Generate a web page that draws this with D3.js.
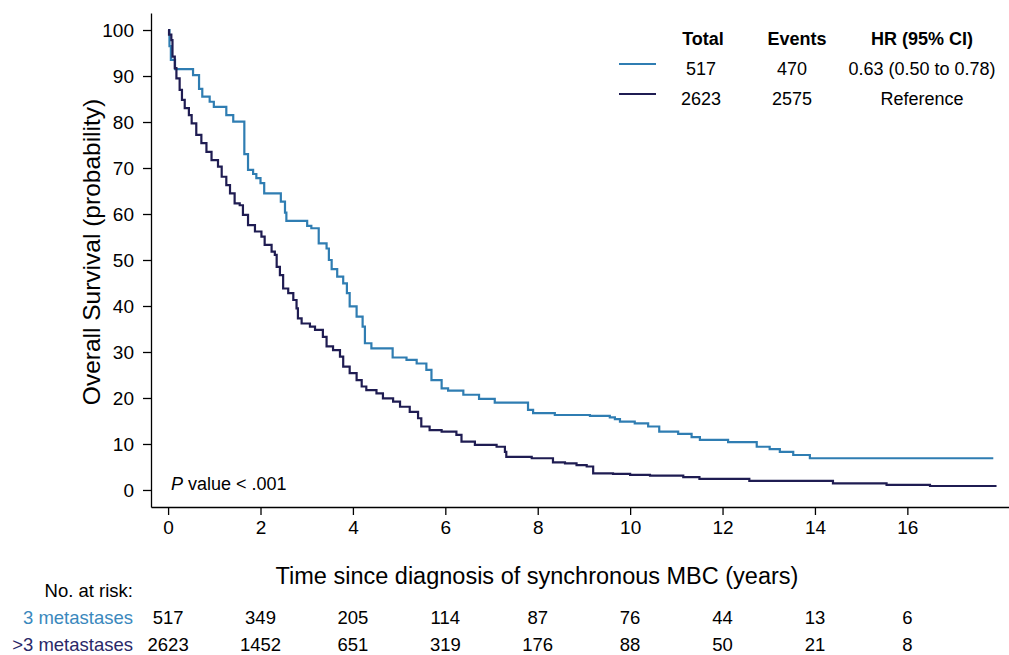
<!DOCTYPE html>
<html>
<head>
<meta charset="utf-8">
<script src="https://cdn.jsdelivr.net/npm/d3@7"></script>
<style>
  body { margin: 0; background: #fff; }
  svg { display: block; font-family: "Liberation Sans", Arial, sans-serif; }
</style>
</head>
<body>
<svg width="1009" height="655"></svg>
<script>
// Curve data (years, survival %)
var threeTime = [0, 0.03, 0.06, 0.15, 0.54, 0.67, 0.74, 0.90, 0.99, 1.26,
  1.41, 1.65, 1.73, 1.84, 1.91, 2.00, 2.08, 2.44, 2.53, 2.56,
  3.01, 3.10, 3.26, 3.43, 3.48, 3.54, 3.66, 3.79, 3.87, 3.93,
  4.08, 4.21, 4.26, 4.40, 4.86, 5.16, 5.38, 5.59, 5.70, 5.92,
  6.06, 6.39, 6.73, 7.07, 7.79, 7.90, 8.37, 9.13, 9.56, 9.67,
  9.78, 10.10, 10.39, 10.63, 11.04, 11.33, 11.51, 12.12, 12.74, 13.02,
  13.24, 13.53, 13.89, 17.86];
var threeSurv = [100, 96.5, 93.5, 91.5, 90.2, 87.2, 85.5, 84.4, 83.3, 81.5,
  80.1, 73.0, 69.6, 68.7, 67.8, 66.7, 64.5, 62.7, 60.3, 58.5,
  57.4, 56.9, 53.6, 52.5, 50.0, 48.0, 46.4, 44.9, 42.8, 39.9,
  37.7, 35.5, 31.9, 30.8, 28.8, 28.3, 27.5, 26.1, 23.9, 22.1,
  21.6, 20.7, 19.8, 19.0, 17.4, 16.7, 16.3, 16.1, 15.8, 15.4,
  14.85, 14.5, 13.8, 12.7, 12.2, 11.5, 10.9, 10.4, 9.4, 8.9,
  8.3, 7.6, 6.9, 6.9];

var moreTime = [0, 0.02, 0.07, 0.095, 0.145, 0.18, 0.25, 0.30, 0.36, 0.45,
  0.51, 0.61, 0.72, 0.83, 0.94, 1.08, 1.16, 1.26, 1.34, 1.44,
  1.55, 1.62, 1.73, 1.88, 2.02, 2.09, 2.24, 2.31, 2.35, 2.42,
  2.49, 2.60, 2.71, 2.78, 2.81, 2.89, 3.07, 3.18, 3.35, 3.43,
  3.57, 3.72, 3.79, 3.93, 4.08, 4.19, 4.29, 4.51, 4.65, 4.87,
  5.02, 5.23, 5.41, 5.48, 5.66, 5.92, 6.24, 6.35, 6.64, 7.11,
  7.29, 7.32, 7.87, 8.33, 8.59, 8.84, 9.06, 9.20, 9.63, 10.0,
  10.43, 11.15, 11.5, 12.58, 14.39, 15.55, 16.49, 17.93];
var moreSurv = [100, 99, 97.8, 94.2, 91.7, 89.5, 87.0, 84.8, 83.0, 81.5,
  79.7, 77.2, 75.4, 73.5, 71.7, 70.3, 68.1, 66.3, 64.5, 62.3,
  61.9, 59.8, 57.6, 56.2, 55.1, 53.3, 51.8, 51.1, 48.5, 46.7,
  43.8, 42.8, 41.3, 39.5, 37.3, 36.2, 35.5, 34.8, 33.3, 31.2,
  30.4, 29.0, 26.8, 25.4, 23.9, 22.5, 21.7, 21.0, 19.9, 19.2,
  18.1, 17.0, 15.6, 13.8, 13.0, 12.7, 12.0, 10.5, 9.8, 9.4,
  8.3, 7.2, 6.9, 6.0, 5.8, 5.4, 5.1, 3.6, 3.5, 3.3,
  3.1, 2.8, 2.4, 2.0, 1.45, 1.1, 0.87, 0.87];

// Ticks and risk table
var xTicks = [0, 2, 4, 6, 8, 10, 12, 14, 16];
var yTicks = [0, 10, 20, 30, 40, 50, 60, 70, 80, 90, 100];
var groupNames = ["3 metastases", ">3 metastases"];
var riskThree = [517, 349, 205, 114, 87, 76, 44, 13, 6];
var riskMore = [2623, 1452, 651, 319, 176, 88, 50, 21, 8];

// Legend table
var legendHeaders = ["Total", "Events", "HR (95% CI)"];
var legendThree = ["517", "470", "0.63 (0.50 to 0.78)"];
var legendMore = ["2623", "2575", "Reference"];

var colors = ["#2f7db2", "#1f1c52"];

var svg = d3.select("svg");

// Scales: plot area from x=151 to 1009, y from 13 to 507
var x = d3.scaleLinear().domain([-0.37, 18.2]).range([151, 1009]);
var y = d3.scaleLinear().domain([-3.7, 103.7]).range([507, 13]);

// Axes
var xAxis = svg.append("g")
    .attr("transform", "translate(0," + y.range()[0] + ")")
    .call(d3.axisBottom(x).tickValues(xTicks).tickSize(8).tickSizeOuter(0).tickPadding(6));
var yAxis = svg.append("g")
    .attr("transform", "translate(" + x.range()[0] + ",0)")
    .call(d3.axisLeft(y).tickValues(yTicks).tickSize(8).tickSizeOuter(0).tickPadding(9));

[xAxis, yAxis].forEach(function(g) {
  g.selectAll("path, line").attr("stroke", "#000").attr("stroke-width", 1.3);
  g.selectAll("text").attr("fill", "#000").style("font-size", "19px");
});

// Axis titles
svg.append("text")
    .attr("x", 537).attr("y", 584)
    .attr("text-anchor", "middle")
    .style("font-size", "23.5px")
    .text("Time since diagnosis of synchronous MBC (years)");

svg.append("text")
    .attr("transform", "translate(100,252) rotate(-90)")
    .attr("text-anchor", "middle")
    .style("font-size", "24.5px")
    .text("Overall Survival (probability)");

// Survival curves
var line = d3.line()
    .x(function(d) { return x(d[0]); })
    .y(function(d) { return y(d[1]); })
    .curve(d3.curveStepAfter);

var series = [d3.zip(threeTime, threeSurv), d3.zip(moreTime, moreSurv)];
svg.selectAll(".km")
    .data(series)
  .enter().append("path")
    .attr("class", "km")
    .attr("d", line)
    .attr("fill", "none")
    .attr("stroke", function(d, i) { return colors[i]; })
    .attr("stroke-width", 2.2);

// P value note
var pv = svg.append("text")
    .attr("x", 171).attr("y", 490)
    .style("font-size", "18px");
pv.append("tspan").style("font-style", "italic").text("P");
pv.append("tspan").text(" value < .001");

// Legend table
var colHead = [703, 797, 922];
var colVal = [701, 792, 922];
svg.selectAll(".lh")
    .data(legendHeaders)
  .enter().append("text")
    .attr("class", "lh")
    .attr("x", function(d, i) { return colHead[i]; })
    .attr("y", 45)
    .attr("text-anchor", "middle")
    .style("font-size", "18px")
    .style("font-weight", "bold")
    .text(function(d) { return d; });

[legendThree, legendMore].forEach(function(row, r) {
  var yy = 75 + r * 30;
  svg.append("line")
      .attr("x1", 619).attr("x2", 656)
      .attr("y1", yy - 11).attr("y2", yy - 11)
      .attr("stroke", colors[r]).attr("stroke-width", 2.2);
  svg.selectAll(".lr" + r)
      .data(row)
    .enter().append("text")
      .attr("x", function(d, i) { return colVal[i]; })
      .attr("y", yy)
      .attr("text-anchor", "middle")
      .style("font-size", "18px")
      .text(function(d) { return d; });
});

// Number at risk table
svg.append("text")
    .attr("x", 133).attr("y", 597)
    .attr("text-anchor", "end")
    .style("font-size", "18.5px")
    .text("No. at risk:");

[riskThree, riskMore].forEach(function(vals, r) {
  var yy = 624 + r * 27;
  svg.append("text")
      .attr("x", 133).attr("y", yy)
      .attr("text-anchor", "end")
      .attr("fill", r === 0 ? "#3a88bd" : "#2a2868")
      .style("font-size", "18.5px")
      .text(groupNames[r]);
  svg.selectAll(".rk" + r)
      .data(vals)
    .enter().append("text")
      .attr("x", function(d, i) { return x(xTicks[i]); })
      .attr("y", yy)
      .attr("text-anchor", "middle")
      .style("font-size", "18.5px")
      .text(function(d) { return d; });
});
</script>
</body>
</html>
